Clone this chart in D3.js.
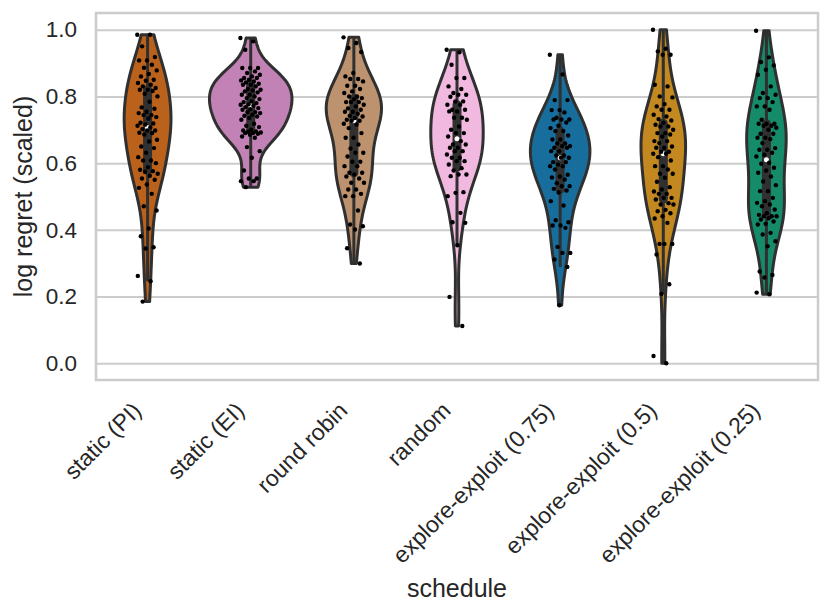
<!DOCTYPE html>
<html>
<head>
<meta charset="utf-8">
<script src="https://cdn.jsdelivr.net/npm/d3@7"></script>
<style>
  body { margin: 0; background: #fff; }
  svg text { font-family: "Liberation Sans", Arial, sans-serif; fill: #262626; }
</style>
</head>
<body>
<svg id="chart" width="831" height="616"></svg>
<script>
// categories and palette (seaborn colorblind, desaturated like violinplot does)
var schedules = ["static (PI)", "static (EI)", "round robin", "random",
  "explore-exploit (0.75)", "explore-exploit (0.5)", "explore-exploit (0.25)"];
var colors = ["#ba611b", "#c282b5", "#bd926e", "#f1b8e0", "#176d9c", "#c38820", "#168b6a"];
var yTicks = [0, 0.2, 0.4, 0.6, 0.8, 1.0];

// log regret (scaled), one value per run
var staticPI = [0.985, 0.985, 0.950, 0.918, 0.908, 0.908, 0.895, 0.886, 0.878, 0.867,
  0.860, 0.850, 0.847, 0.840, 0.835, 0.830, 0.825, 0.820, 0.820, 0.816,
  0.808, 0.800, 0.784, 0.767, 0.763, 0.754, 0.750, 0.744, 0.744, 0.738,
  0.734, 0.721, 0.719, 0.716, 0.712, 0.707, 0.702, 0.698, 0.698, 0.691,
  0.690, 0.686, 0.670, 0.665, 0.650, 0.645, 0.631, 0.618, 0.608, 0.608,
  0.600, 0.588, 0.580, 0.576, 0.574, 0.568, 0.562, 0.554, 0.550, 0.536,
  0.526, 0.508, 0.471, 0.458, 0.404, 0.381, 0.348, 0.344, 0.262, 0.246, 0.185];
var staticEI = [0.975, 0.965, 0.940, 0.885, 0.885, 0.885, 0.875, 0.870, 0.865, 0.860,
  0.855, 0.855, 0.850, 0.848, 0.845, 0.842, 0.838, 0.835, 0.835, 0.830,
  0.822, 0.820, 0.818, 0.815, 0.812, 0.805, 0.805, 0.800, 0.795, 0.792,
  0.785, 0.783, 0.780, 0.776, 0.775, 0.772, 0.768, 0.765, 0.762, 0.760,
  0.753, 0.753, 0.750, 0.745, 0.742, 0.740, 0.735, 0.730, 0.718, 0.712,
  0.708, 0.700, 0.698, 0.695, 0.694, 0.692, 0.690, 0.690, 0.688, 0.685,
  0.680, 0.676, 0.648, 0.636, 0.616, 0.578, 0.554, 0.554, 0.546, 0.546, 0.528];
var roundRobin = [0.977, 0.960, 0.945, 0.933, 0.870, 0.860, 0.852, 0.852, 0.845, 0.832,
  0.832, 0.822, 0.815, 0.810, 0.800, 0.800, 0.795, 0.792, 0.783, 0.783,
  0.783, 0.775, 0.770, 0.764, 0.760, 0.754, 0.754, 0.748, 0.742, 0.740,
  0.735, 0.730, 0.727, 0.727, 0.718, 0.716, 0.705, 0.690, 0.676, 0.676,
  0.656, 0.644, 0.631, 0.631, 0.620, 0.604, 0.604, 0.591, 0.591, 0.571,
  0.571, 0.566, 0.560, 0.554, 0.541, 0.541, 0.521, 0.521, 0.508, 0.501,
  0.501, 0.458, 0.416, 0.411, 0.401, 0.345, 0.299];
var randomSched = [0.940, 0.932, 0.895, 0.855, 0.855, 0.830, 0.822, 0.810, 0.805, 0.805,
  0.799, 0.785, 0.785, 0.775, 0.775, 0.760, 0.760, 0.755, 0.755, 0.736,
  0.736, 0.730, 0.710, 0.700, 0.690, 0.690, 0.680, 0.666, 0.656, 0.656,
  0.646, 0.646, 0.636, 0.636, 0.626, 0.616, 0.616, 0.606, 0.606, 0.596,
  0.585, 0.578, 0.566, 0.566, 0.561, 0.513, 0.511, 0.501, 0.451, 0.423,
  0.421, 0.354, 0.199, 0.112];
var ee075 = [0.925, 0.866, 0.789, 0.789, 0.759, 0.759, 0.752, 0.736, 0.731, 0.731,
  0.731, 0.722, 0.712, 0.705, 0.696, 0.696, 0.683, 0.671, 0.671, 0.659,
  0.659, 0.651, 0.651, 0.646, 0.646, 0.636, 0.636, 0.623, 0.623, 0.616,
  0.616, 0.603, 0.603, 0.596, 0.591, 0.591, 0.581, 0.565, 0.560, 0.557,
  0.551, 0.540, 0.531, 0.531, 0.523, 0.518, 0.512, 0.486, 0.473, 0.429,
  0.423, 0.413, 0.413, 0.406, 0.349, 0.331, 0.331, 0.311, 0.289, 0.174];
var ee05 = [1.000, 0.943, 0.935, 0.925, 0.925, 0.835, 0.830, 0.800, 0.797, 0.777,
  0.770, 0.760, 0.760, 0.745, 0.740, 0.732, 0.728, 0.721, 0.715, 0.710,
  0.710, 0.700, 0.690, 0.690, 0.686, 0.680, 0.666, 0.666, 0.660, 0.650,
  0.646, 0.646, 0.634, 0.634, 0.628, 0.628, 0.618, 0.608, 0.591, 0.591,
  0.581, 0.568, 0.568, 0.556, 0.544, 0.528, 0.521, 0.515, 0.508, 0.508,
  0.496, 0.496, 0.491, 0.480, 0.476, 0.476, 0.460, 0.456, 0.450, 0.441,
  0.434, 0.421, 0.358, 0.358, 0.358, 0.326, 0.237, 0.208, 0.022, 0.000];
var ee025 = [0.997, 0.917, 0.903, 0.893, 0.880, 0.865, 0.830, 0.810, 0.805, 0.795,
  0.795, 0.783, 0.770, 0.770, 0.760, 0.730, 0.718, 0.718, 0.718, 0.712,
  0.712, 0.706, 0.700, 0.688, 0.688, 0.676, 0.676, 0.672, 0.660, 0.645,
  0.640, 0.640, 0.631, 0.625, 0.620, 0.601, 0.598, 0.586, 0.578, 0.571,
  0.560, 0.545, 0.534, 0.516, 0.516, 0.496, 0.486, 0.481, 0.476, 0.471,
  0.461, 0.450, 0.445, 0.441, 0.441, 0.441, 0.435, 0.431, 0.425, 0.418,
  0.416, 0.391, 0.386, 0.366, 0.351, 0.275, 0.265, 0.257, 0.212, 0.207];

var groups = [staticPI, staticEI, roundRobin, randomSched, ee075, ee05, ee025];

var plotL = 96, plotR = 818, plotT = 13, plotB = 380;
var gray = "#303030";
var svg = d3.select("#chart");

var x = d3.scaleBand().domain(schedules).range([plotL, plotR]).padding(0);
var allVals = d3.merge(groups);
var ext = d3.extent(allVals), pad = (ext[1] - ext[0]) * 0.05;
var y = d3.scaleLinear().domain([ext[0] - pad, ext[1] + pad]).range([plotB, plotT]);

// gaussian kde, scott bandwidth, cut at the data range
function kde(vals) {
  var n = vals.length, bw = d3.deviation(vals) * Math.pow(n, -0.2);
  var lo = d3.min(vals), hi = d3.max(vals);
  return d3.range(100).map(function (i) {
    var t = lo + (hi - lo) * i / 99, s = 0;
    vals.forEach(function (v) { var z = (t - v) / bw; s += Math.exp(-0.5 * z * z); });
    return [t, s / (n * bw * Math.sqrt(2 * Math.PI))];
  });
}
var dens = groups.map(kde);
var w = d3.scaleLinear()
  .domain([0, d3.max(dens, function (d) { return d3.max(d, function (p) { return p[1]; }); })])
  .range([0, x.bandwidth() * 0.4]);

// grid + y axis
var yAxis = d3.axisLeft(y).tickValues(yTicks).tickFormat(d3.format(".1f"))
  .tickSize(-(plotR - plotL)).tickPadding(19);
var yg = svg.append("g").attr("transform", "translate(" + plotL + ",0)").call(yAxis);
yg.select(".domain").remove();
yg.selectAll("line").attr("stroke", "#cccccc").attr("stroke-width", 2);
yg.selectAll("text").attr("font-size", 22.5).style("fill", "#262626");

// x axis labels
var xAxis = d3.axisBottom(x).tickSize(0);
var xg = svg.append("g").attr("transform", "translate(0," + plotB + ")").call(xAxis);
xg.select(".domain").remove();
xg.selectAll("text")
  .attr("font-size", 23).style("fill", "#262626")
  .attr("text-anchor", "end").attr("y", 0).attr("dy", 0)
  .attr("transform", "translate(-5,32) rotate(-45)");

// violins
groups.forEach(function (vals, i) {
  var cx = x(schedules[i]) + x.bandwidth() / 2;
  var g = svg.append("g");
  g.append("path")
    .datum(dens[i])
    .attr("d", d3.area()
      .x0(function (d) { return cx - w(d[1]); })
      .x1(function (d) { return cx + w(d[1]); })
      .y(function (d) { return y(d[0]); }))
    .attr("fill", colors[i]).attr("stroke", gray).attr("stroke-width", 3)
    .attr("stroke-linejoin", "round");

  var s = vals.slice().sort(d3.ascending);
  var q1 = d3.quantile(s, 0.25), q2 = d3.quantile(s, 0.5), q3 = d3.quantile(s, 0.75);
  var iqr = q3 - q1;
  var lo = d3.min(s.filter(function (v) { return v >= q1 - 1.5 * iqr; }));
  var hi = d3.max(s.filter(function (v) { return v <= q3 + 1.5 * iqr; }));
  g.append("line").attr("x1", cx).attr("x2", cx).attr("y1", y(lo)).attr("y2", y(hi))
    .attr("stroke", gray).attr("stroke-width", 3);
  g.append("line").attr("x1", cx).attr("x2", cx).attr("y1", y(q1)).attr("y2", y(q3))
    .attr("stroke", gray).attr("stroke-width", 9).attr("stroke-linecap", "round");
  g.append("circle").attr("cx", cx).attr("cy", y(q2)).attr("r", 2.5).attr("fill", "#fff");
});

// strip points (fixed jitter of +-0.1 of a category)
groups.forEach(function (vals, i) {
  var cx = x(schedules[i]) + x.bandwidth() / 2;
  svg.append("g").selectAll("circle").data(vals).enter().append("circle")
    .attr("cx", function (d, j) { return cx + ((j * 0.6180339887) % 1 * 2 - 1) * 0.1 * x.bandwidth(); })
    .attr("cy", function (d) { return y(d); })
    .attr("r", 2.2).attr("fill", "#000");
});

// frame
svg.append("rect").attr("x", plotL).attr("y", plotT)
  .attr("width", plotR - plotL).attr("height", plotB - plotT)
  .attr("fill", "none").attr("stroke", "#cccccc").attr("stroke-width", 2.5);

// axis titles
svg.append("text").attr("x", (plotL + plotR) / 2).attr("y", 597)
  .attr("text-anchor", "middle").attr("font-size", 25).text("schedule");
svg.append("text").attr("transform", "translate(32," + ((plotT + plotB) / 2) + ") rotate(-90)")
  .attr("text-anchor", "middle").attr("font-size", 25).text("log regret (scaled)");
</script>
</body>
</html>
